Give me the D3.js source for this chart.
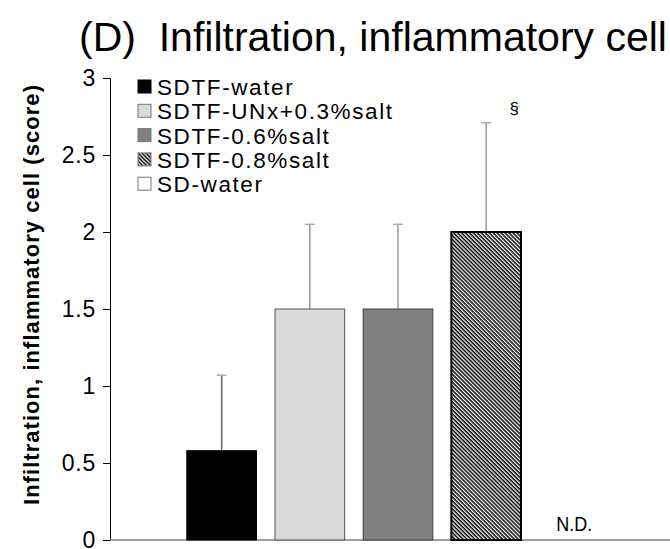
<!DOCTYPE html>
<html>
<head>
<meta charset="utf-8">
<title>Infiltration, inflammatory cell</title>
<script src="https://cdnjs.cloudflare.com/ajax/libs/d3/7.8.5/d3.min.js"></script>
<style>
  body { margin: 0; background: #fff; }
  svg { display: block; font-family: Arial, "Liberation Sans", sans-serif; }
</style>
</head>
<body>
<div id="chart"></div>
<script>
// data
var groups = ["SDTF-water", "SDTF-UNx+0.3%salt", "SDTF-0.6%salt", "SDTF-0.8%salt", "SD-water"];
var means = [0.58, 1.5, 1.5, 2.0, 0];
var sds = [0.49, 0.55, 0.55, 0.71, 0];
var yTicks = [0, 0.5, 1, 1.5, 2, 2.5, 3];
var fills = ["#000000", "#d9d9d9", "#808080", "url(#hatch)", "#ffffff"];

var width = 670, height = 549;

var svg = d3.select("#chart").append("svg")
    .attr("width", width)
    .attr("height", height);

// downward diagonal hatch for the 0.8% group
var defs = svg.append("defs");
var hatch = defs.append("pattern")
    .attr("id", "hatch")
    .attr("patternUnits", "userSpaceOnUse")
    .attr("width", 2.8).attr("height", 2.8)
    .attr("patternTransform", "rotate(45)");
hatch.append("rect").attr("width", 2.8).attr("height", 2.8).attr("fill", "#fff");
hatch.append("rect").attr("width", 2.8).attr("height", 1.5).attr("fill", "#000");

var y = d3.scaleLinear().domain([0, 3]).range([540, 78]);
var x = d3.scaleBand().domain(groups).range([178, 618]).paddingInner(0.21).paddingOuter(0.1);

// title - condensed look: big font squeezed into the line
svg.append("text")
    .attr("x", 79).attr("y", 51)
    .attr("font-size", 41)
    .attr("textLength", 588)
    .attr("lengthAdjust", "spacingAndGlyphs")
    .style("white-space", "pre")
    .attr("fill", "#000")
    .text("(D)  Infiltration, inflammatory cell");

// y axis
var yAxis = svg.append("g")
    .attr("transform", "translate(110,0)")
    .call(d3.axisLeft(y).tickValues(yTicks).tickSize(7).tickPadding(7)
        .tickFormat(function(d) { return d; }));
yAxis.select(".domain").attr("stroke", "#000");
yAxis.selectAll(".tick line").attr("stroke", "#000");
yAxis.selectAll(".tick text")
    .attr("font-size", 23)
    .attr("letter-spacing", 0.8)
    .attr("font-family", "Arial, 'Liberation Sans', sans-serif")
    .attr("fill", "#000");

// baseline
svg.append("line")
    .attr("x1", 110).attr("x2", 670)
    .attr("y1", y(0)).attr("y2", y(0))
    .attr("stroke", "#808080").attr("stroke-width", 1.5);

// y label
svg.append("text")
    .attr("transform", "translate(39,295) rotate(-90)")
    .attr("text-anchor", "middle")
    .attr("font-size", 22)
    .attr("font-weight", "bold")
    .attr("textLength", 420)
    .attr("lengthAdjust", "spacing")
    .text("Infiltration, inflammatory cell (score)");

// error bars (upper only)
var err = svg.append("g");
groups.forEach(function(g, i) {
    if (sds[i] <= 0) return;
    var cx = x(g) + x.bandwidth() / 2;
    var col = i === 0 ? "#666" : "#999";
    err.append("line")
        .attr("x1", cx).attr("x2", cx)
        .attr("y1", y(means[i])).attr("y2", y(means[i] + sds[i]))
        .attr("stroke", col).attr("stroke-width", 1.5);
    err.append("line")
        .attr("x1", cx - 5).attr("x2", cx + 5)
        .attr("y1", y(means[i] + sds[i])).attr("y2", y(means[i] + sds[i]))
        .attr("stroke", "#aaa").attr("stroke-width", 1.5);
});

// bars
var strokes = ["#000", "#555", "#404040", "#000", "#000"];
svg.append("g").selectAll("rect")
    .data(groups)
    .enter().append("rect")
    .attr("x", function(d) { return x(d); })
    .attr("y", function(d, i) { return y(means[i]); })
    .attr("width", x.bandwidth())
    .attr("height", function(d, i) { return y(0) - y(means[i]); })
    .attr("fill", function(d, i) { return fills[i]; })
    .attr("stroke", function(d, i) { return strokes[i]; })
    .attr("stroke-width", function(d, i) { return i === 3 ? 2 : 1; })
    .style("display", function(d, i) { return means[i] > 0 ? null : "none"; });

// N.D. label for the empty group
svg.append("text")
    .attr("x", x("SD-water") + x.bandwidth() / 2)
    .attr("y", 531)
    .attr("text-anchor", "middle")
    .attr("font-size", 21)
    .attr("textLength", 36)
    .attr("lengthAdjust", "spacingAndGlyphs")
    .text("N.D.");

// significance mark
svg.append("text")
    .attr("x", x("SDTF-0.8%salt") + x.bandwidth() / 2 + 28)
    .attr("y", y(2.71) - 9)
    .attr("text-anchor", "middle")
    .attr("font-size", 17)
    .text("\u00a7");

// legend
var legend = svg.append("g").attr("transform", "translate(138,87)");
groups.forEach(function(g, i) {
    var row = legend.append("g").attr("transform", "translate(0," + (i * 24.3) + ")");
    row.append("rect")
        .attr("x", 0).attr("y", -7)
        .attr("width", 13).attr("height", 13)
        .attr("fill", fills[i])
        .attr("stroke", i === 0 ? "#000" : "#777")
        .attr("stroke-width", 1);
    row.append("text")
        .attr("x", 19).attr("y", 8)
        .attr("font-size", 22.5)
        .attr("letter-spacing", 1.6)
        .text(g);
});
</script>
</body>
</html>
